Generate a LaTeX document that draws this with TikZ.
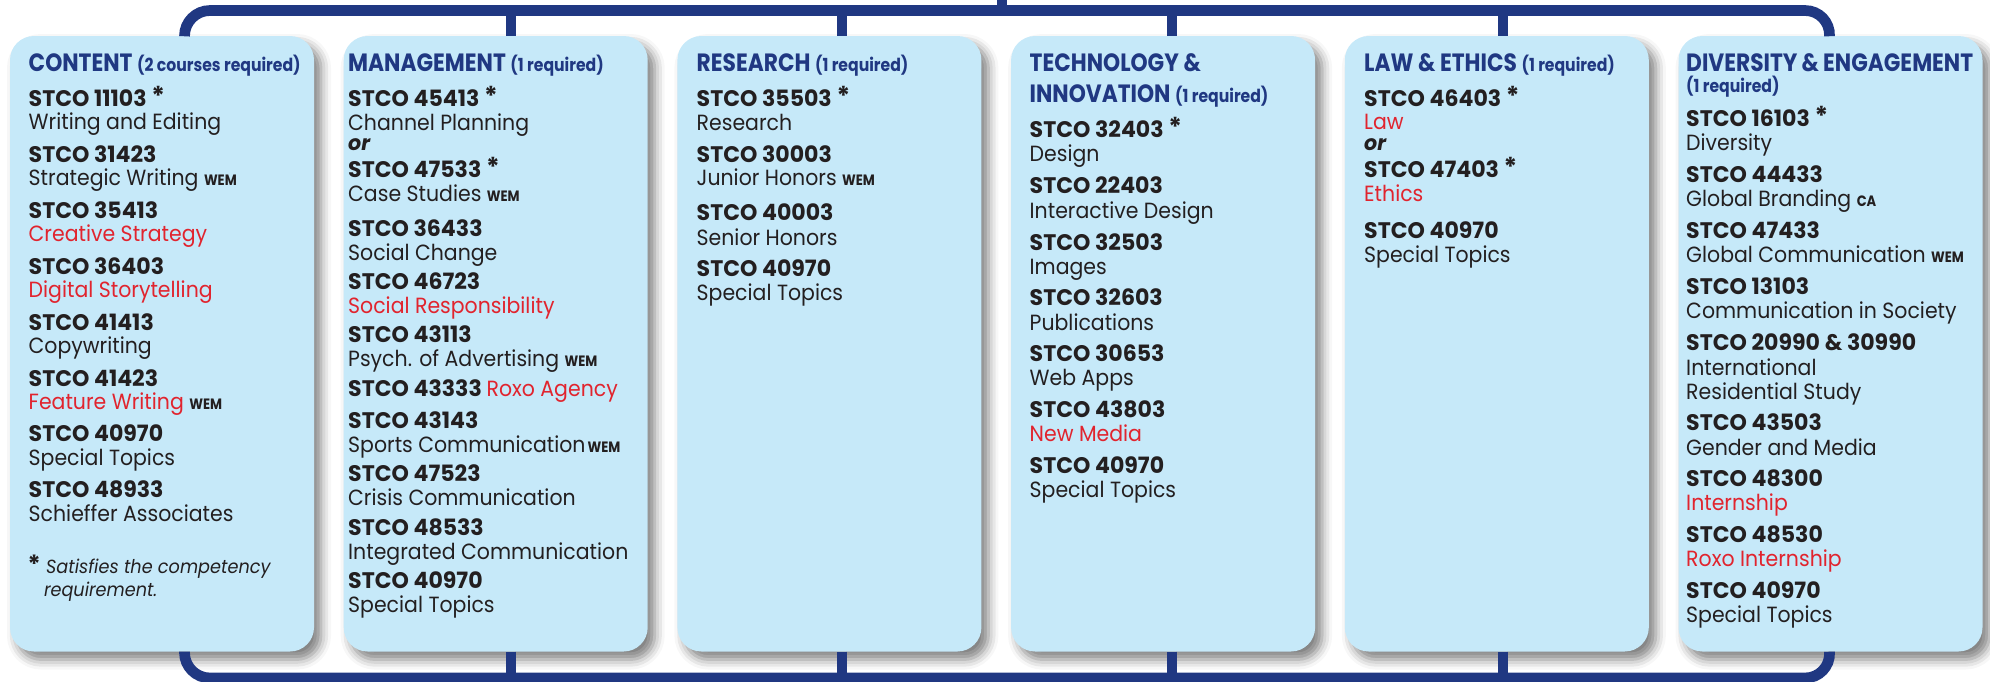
\documentclass[tikz,border=0pt]{standalone}
\usepackage{fontspec}
\usetikzlibrary{shadows.blur}

\newfontfamily\bodyfont{Poppins}[FakeStretch=0.93]
\newfontfamily\codefont{Poppins}[FakeStretch=0.98]
\newfontfamily\headfont{Poppins}[FakeStretch=0.87]

\definecolor{navy}{RGB}{32,56,130}
\definecolor{sky}{RGB}{198,233,249}
\definecolor{ink}{RGB}{35,31,32}
\definecolor{crimson}{RGB}{225,36,46}

\newcommand\req[1]{{\fontsize{18}{18}\selectfont #1}}
\newcommand\flag[1]{{\headfont\bfseries\fontsize{15}{15}\selectfont #1}}
\newcommand\compstar{ \raisebox{1pt}{\fontsize{26}{26}\selectfont *}}
\newcommand\hot[1]{{\color{crimson}#1}}

% one course: code line and title line
\newcommand\course[6]{%
  \node[code] (#1c) at (#2,#3) {#4};
  \node[desc] (#1d) at (#2,#5) {#6};}

\tikzset{
  card/.style={fill=sky, rounded corners=24pt, minimum width=304pt,
    minimum height=615.5pt, inner sep=0pt,
    blur shadow={shadow xshift=7pt, shadow yshift=-8pt,
      shadow blur radius=10pt, shadow opacity=50}},
  bus/.style={draw=navy, line width=10.7pt},
  code/.style={anchor=base west, inner sep=0pt, text=ink,
    font=\codefont\bfseries\fontsize{22.5}{22.5}\selectfont},
  desc/.style={anchor=base west, inner sep=0pt, text=ink,
    font=\bodyfont\fontsize{22}{22}\selectfont},
  head/.style={anchor=base west, inner sep=0pt, text=navy,
    font=\headfont\bfseries\fontsize{25}{25}\selectfont},
  note/.style={anchor=base west, inner sep=0pt, text=ink,
    font=\bodyfont\itshape\fontsize{19}{19}\selectfont},
}

\begin{document}
\begin{tikzpicture}[x=1pt,y=-1pt]
\useasboundingbox (0,0) rectangle (1990,681);

% category cards
\node[card] (b1) at (162,343.75) {};
\node[card] (b2) at (495.7,343.75) {};
\node[card] (b3) at (829.4,343.75) {};
\node[card] (b4) at (1163.1,343.75) {};
\node[card] (b5) at (1496.8,343.75) {};
\node[card] (b6) at (1830.5,343.75) {};

% top and bottom bus lines
\coordinate (topbus) at (0,10.5);
\coordinate (botbus) at (0,678);
\coordinate (feed) at (1002,0);
\draw[bus, rounded corners=25.5pt] ([xshift=22.5pt]b1.north) |- (topbus -| b6.north) -- ([xshift=-1pt]b6.north);
\draw[bus, rounded corners=25.5pt] ([xshift=22.5pt]b1.south) |- (botbus -| b6.south) -- ([xshift=-1pt]b6.south);
\draw[bus] (feed) -- (feed |- topbus);
\foreach \b/\dx in {b2/15.3, b3/12.6, b4/8.9, b5/6.2} {
  \draw[bus] ([xshift=\dx pt]\b.north) -- ([xshift=\dx pt]\b.north |- topbus);
  \draw[bus] ([xshift=\dx pt]\b.south) -- ([xshift=\dx pt]\b.south |- botbus);
}

% CONTENT
\node[head] (h1) at (28.5,71) {CONTENT \req{(2 courses required)}};
\course{a1}{28.5}{106}{STCO 11103\compstar}{129.3}{Writing and Editing}
\course{a2}{28.5}{162.3}{STCO 31423}{185.7}{Strategic Writing \flag{WEM}}
\course{a3}{28.5}{218.3}{STCO 35413}{241.7}{\hot{Creative Strategy}}
\course{a4}{28.5}{274}{STCO 36403}{297.3}{\hot{Digital Storytelling}}
\course{a5}{28.5}{330}{STCO 41413}{353.5}{Copywriting}
\course{a6}{28.5}{386}{STCO 41423}{409.5}{\hot{Feature Writing} \flag{WEM}}
\course{a7}{28.5}{441.7}{STCO 40970}{465.7}{Special Topics}
\course{a8}{28.5}{497.7}{STCO 48933}{521.7}{Schieffer Associates}
\node[code, font=\codefont\bfseries\fontsize{25}{25}\selectfont] (fnstar) at (27.5,573) {*};
\node[note] (fn1) at (46,573.3) {Satisfies the competency};
\node[note] (fn2) at (43.8,596.7) {requirement.};

% MANAGEMENT
\node[head] (h2) at (348,71) {MANAGEMENT \req{(1 required)}};
\course{m1}{348}{106}{STCO 45413\compstar}{130}{Channel Planning}
\node[code, font=\codefont\bfseries\itshape\fontsize{21}{21}\selectfont] (mor) at (348,150.5) {or};
\course{m2}{348}{177.7}{STCO 47533\compstar}{201.7}{Case Studies \flag{WEM}}
\course{m3}{348}{236.7}{STCO 36433}{260}{Social Change}
\course{m4}{348}{289.3}{STCO 46723}{313.3}{\hot{Social Responsibility}}
\course{m5}{348}{342.7}{STCO 43113}{366.7}{Psych. of Advertising \flag{WEM}}
\node[code] (m6) at (348,396.7) {STCO 43333 {\bodyfont\mdseries\fontsize{22}{22}\selectfont\color{crimson}Roxo Agency}};
\course{m7}{348}{428.3}{STCO 43143}{452.3}{Sports Communication\hspace{2pt}\flag{WEM}}
\course{m8}{348}{481.7}{STCO 47523}{505.7}{Crisis Communication}
\course{m9}{348}{535}{STCO 48533}{559}{Integrated Communication}
\course{m10}{348}{588.3}{STCO 40970}{612.3}{Special Topics}

% RESEARCH
\node[head] (h3) at (696.5,71) {RESEARCH \req{(1 required)}};
\course{r1}{696.5}{106}{STCO 35503\compstar}{130}{Research}
\course{r2}{696.5}{162.3}{STCO 30003}{185.7}{Junior Honors \flag{WEM}}
\course{r3}{696.5}{220.7}{STCO 40003}{245}{Senior Honors}
\course{r4}{696.5}{276.7}{STCO 40970}{300.7}{Special Topics}

% TECHNOLOGY & INNOVATION
\node[head] (h4a) at (1029.5,71) {TECHNOLOGY \&};
\node[head] (h4b) at (1029.5,102.7) {INNOVATION \req{(1 required)}};
\course{t1}{1029.5}{137.3}{STCO 32403\compstar}{161.7}{Design}
\course{t2}{1029.5}{193.3}{STCO 22403}{218.3}{Interactive Design}
\course{t3}{1029.5}{250}{STCO 32503}{274}{Images}
\course{t4}{1029.5}{305.7}{STCO 32603}{330}{Publications}
\course{t5}{1029.5}{361.7}{STCO 30653}{385.7}{Web Apps}
\course{t6}{1029.5}{417.7}{STCO 43803}{441.7}{\hot{New Media}}
\course{t7}{1029.5}{473.3}{STCO 40970}{497.3}{Special Topics}

% LAW & ETHICS
\node[head] (h5) at (1364,71) {LAW \& ETHICS \req{(1 required)}};
\course{l1}{1364}{106}{STCO 46403\compstar}{129.3}{\hot{Law}}
\node[code, font=\codefont\bfseries\itshape\fontsize{21}{21}\selectfont] (lor) at (1364,150) {or};
\course{l2}{1364}{177.7}{STCO 47403\compstar}{201.7}{\hot{Ethics}}
\course{l3}{1364}{238.3}{STCO 40970}{262.7}{Special Topics}

% DIVERSITY & ENGAGEMENT
\node[head] (h6a) at (1686,71) {DIVERSITY\,\&\,ENGAGEMENT};
\node[head] (h6b) at (1686,92.7) {\req{(1 required)}};
\course{d1}{1686}{126.7}{STCO 16103\compstar}{150.7}{Diversity}
\course{d2}{1686}{182.7}{STCO 44433}{206.7}{Global Branding \flag{CA}}
\course{d3}{1686}{238.3}{STCO 47433}{262.7}{Global Communication \flag{WEM}}
\course{d4}{1686}{294.3}{STCO 13103}{318.3}{Communication in Society}
\course{d5}{1686}{350.3}{STCO 20990 \& 30990}{375}{International}
\node[desc] (d5e) at (1686,399) {Residential Study};
\course{d6}{1686}{430.7}{STCO 43503}{455}{Gender and Media}
\course{d7}{1686}{486.7}{STCO 48300}{510.7}{\hot{Internship}}
\course{d8}{1686}{542.3}{STCO 48530}{566.7}{\hot{Roxo Internship}}
\course{d9}{1686}{598.3}{STCO 40970}{622.7}{Special Topics}
\end{tikzpicture}
\end{document}
